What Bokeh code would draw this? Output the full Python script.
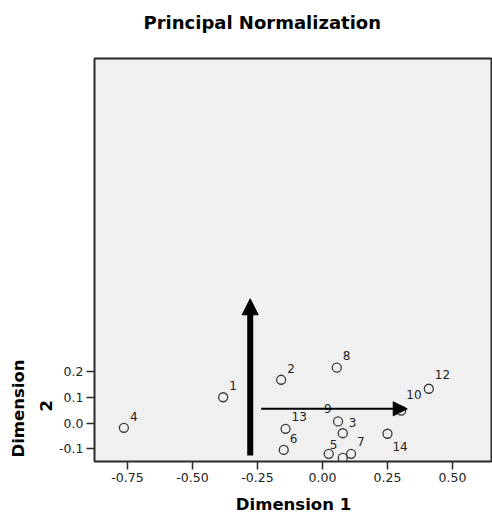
from bokeh.plotting import figure
from bokeh.models import (ColumnDataSource, Arrow, NormalHead, FixedTicker, Range1d, Title)
from bokeh.core.properties import value
from bokeh.embed import file_html
from bokeh.resources import INLINE

# ---- data ----
point_ids = ["1", "2", "3", "4", "5", "6", "7", "8", "9", "10", "11", "12", "13", "14"]
shown_labels = ["1", "2", "3", "4", "5", "6", "7", "8", "9", "10", "", "12", "13", "14"]
dim1 = [-0.382, -0.159, 0.078, -0.764, 0.024, -0.149, 0.110, 0.055, 0.060, 0.303, 0.078, 0.409, -0.142, 0.250]
dim2 = [0.101, 0.169, -0.039, -0.018, -0.119, -0.104, -0.119, 0.216, 0.007, 0.049, -0.135, 0.134, -0.022, -0.041]

# label placement (screen pixels)
label_dx = [6, 6, 6, 6, 1, 6, 6, 6, -14, 5, 0, 6, 6, 5]
label_dy = [-12, -11, -11, -11, -9, -11, -12, -12, -13, -16, 0, -14, -12, 13]

# vectors
vec_x0 = [-0.278, -0.236]
vec_y0 = [-0.126, 0.056]
vec_x1 = [-0.278, 0.326]
vec_y1 = [0.484, 0.056]
vec_width = [6, 2]
vec_head = [16, 14]

x_ticks = [-0.75, -0.50, -0.25, 0.0, 0.25, 0.50]
y_ticks = [-0.1, 0.0, 0.1, 0.2]
x_tick_labels = {-0.75: "-0.75", -0.5: "-0.50", -0.25: "-0.25", 0.0: "0.00", 0.25: "0.25", 0.5: "0.50"}
y_tick_labels = {-0.1: "-0.1", 0.0: "0.0", 0.1: "0.1", 0.2: "0.2"}

title_text = "Principal Normalization"
x_title = "Dimension 1"
y_title_lines = ["Dimension", "2"]

FONT = "DejaVu Sans"
AX = "#2b2b2b"

p = figure(width=492, height=517, output_backend="svg", toolbar_location=None,
           x_range=Range1d(-0.877, 0.654), y_range=Range1d(-0.149, 1.419),
           min_border_left=94, min_border_right=0, min_border_top=58, min_border_bottom=56,
           x_axis_label=x_title)

p.background_fill_color = "#f0f0f0"
p.border_fill_color = "white"
p.outline_line_color = AX
p.outline_line_width = 2
p.grid.visible = False

p.title.text = title_text
p.title.text_font = FONT
p.title.text_font_style = "bold"
p.title.text_font_size = "18px"
p.title.text_color = "black"
p.title.align = "left"
p.title.offset = 49
p.title.vertical_align = "bottom"
if "padding" in p.title.properties():
    p.title.padding = dict(left=0, right=0, top=0, bottom=21)

for ax, ticks, labs in ((p.xaxis[0], x_ticks, x_tick_labels), (p.yaxis[0], y_ticks, y_tick_labels)):
    ax.ticker = FixedTicker(ticks=ticks)
    ax.major_label_overrides = labs
    ax.minor_tick_line_color = None
    ax.major_tick_out = 8
    ax.major_tick_in = 0
    ax.major_tick_line_color = AX
    ax.major_tick_line_width = 1.5
    ax.axis_line_color = None
    ax.major_label_text_font = FONT
    ax.major_label_text_font_size = "12.5px"
    ax.major_label_text_color = "#222222"
    ax.major_label_standoff = 3
    ax.axis_label_text_font = FONT
    ax.axis_label_text_font_style = "bold"
    ax.axis_label_text_font_size = "16.5px"
    ax.axis_label_text_color = "black"

p.xaxis[0].axis_label_standoff = 10
p.yaxis[0].major_label_orientation = "horizontal"

# y-axis title on two lines, placed along the tick span as in the reference
# (the line nearer the axis is added first)
for txt, off in ((y_title_lines[1], 50), (y_title_lines[0], 4)):
    p.add_layout(Title(text=txt, align="left", offset=off, text_font=FONT,
                       text_font_style="bold", text_font_size="16.5px",
                       text_color="black"), "left")

src = ColumnDataSource(dict(x=dim1, y=dim2, lab=shown_labels, dx=label_dx, dy=label_dy, pid=point_ids))
p.scatter("x", "y", source=src, marker="circle", size=9, fill_color=None,
          line_color="#3a3a3a", line_width=1.3)
p.text("x", "y", text="lab", source=src, x_offset="dx", y_offset="dy",
       text_font=value(FONT), text_font_size="12px", text_color="#222222",
       text_align="left", text_baseline="middle")

for i in range(len(vec_x0)):
    p.add_layout(Arrow(x_start=vec_x0[i], y_start=vec_y0[i], x_end=vec_x1[i], y_end=vec_y1[i],
                       line_color="black", line_width=vec_width[i],
                       end=NormalHead(size=vec_head[i], fill_color="black", line_color="black", line_width=1)))

open("out.html", "w").write(file_html(p, INLINE))
